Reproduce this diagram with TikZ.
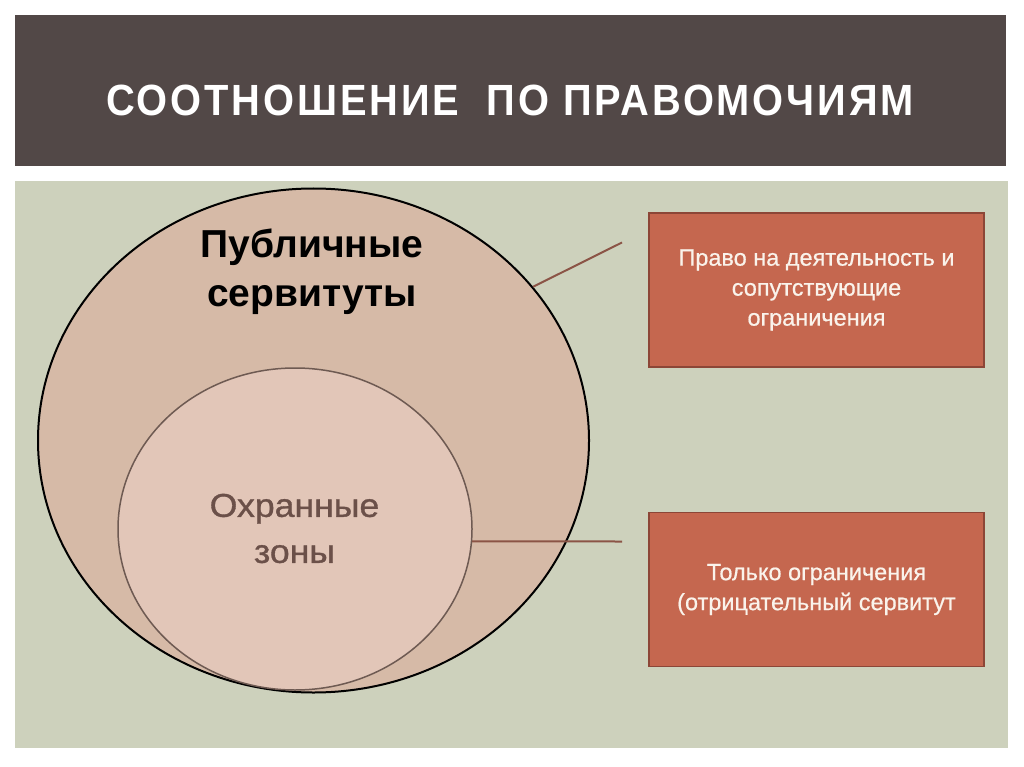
\documentclass[tikz,border=0pt]{standalone}
\usepackage{fontspec}
\setmainfont{Liberation Sans}
\usetikzlibrary{shapes.geometric}
\definecolor{titlebg}{RGB}{82,72,71}
\definecolor{panelbg}{RGB}{205,209,188}
\definecolor{outerfill}{RGB}{214,186,167}
\definecolor{innerfill}{RGB}{226,198,184}
\definecolor{inneredge}{RGB}{110,90,82}
\definecolor{linkcol}{RGB}{139,84,70}
\definecolor{boxfill}{RGB}{197,103,79}
\definecolor{boxedge}{RGB}{140,70,55}
\definecolor{boxtext}{RGB}{250,243,235}
\definecolor{zonetext}{RGB}{107,80,73}
\begin{document}
\begin{tikzpicture}[x=1pt,y=-1pt,
  infobox/.style={draw=boxedge, line width=1.5pt, fill=boxfill, minimum width=335pt,
    minimum height=154pt, inner sep=0pt, text=boxtext, align=center,
    font=\fontsize{23.5}{30}\selectfont\addfontfeature{FakeBold=0.6}},
  link/.style={draw=linkcol, line width=2pt},
  plate/.style={inner sep=0pt, anchor=north west}]
\useasboundingbox (0,0) rectangle (1024,767);
\fill[white] (0,0) rectangle (1024,767);
\node[plate, fill=titlebg, minimum width=991pt, minimum height=151pt] (titlebar) at (15,15) {};
\node[text=white, inner sep=0pt] (title) at (510,100)
  {\resizebox{807pt}{30.5pt}{\bfseries\addfontfeature{FakeStretch=0.7,LetterSpace=5}СООТНОШЕНИЕ\ \ ПО ПРАВОМОЧИЯМ}};
\node[plate, fill=panelbg, minimum width=993pt, minimum height=567pt] (panel) at (15,181) {};
\node[ellipse, draw=black, line width=2pt, fill=outerfill, minimum width=551pt,
  minimum height=504pt, inner sep=0pt] (outer) at (313.5,440.5) {};
\node[ellipse, draw=inneredge, line width=1.5pt, fill=innerfill, minimum width=354pt,
  minimum height=322pt, inner sep=0pt] (inner) at (295,529) {};
\node[font=\fontsize{39}{49}\selectfont\bfseries, align=center, inner sep=0pt] (pubtext) at (312,271.5)
  {Публичные\\сервитуты};
\node[font=\fontsize{33}{46}\selectfont\addfontfeature{FakeStretch=1.08,FakeBold=1}, text=zonetext, align=center, inner sep=0pt] (zonetext) at (294.5,528.5)
  {Охранные\\зоны};
\node[infobox] (box1) at (816.5,290) {Право на деятельность и\\сопутствующие\\ограничения};
\node[infobox] (box2) at (816.5,589.5) {Только ограничения\\(отрицательный сервитут};
\coordinate (end1) at (622,242.5);
\coordinate (end2) at (622,541.5);
\draw[link] (outer.35.6) -- (end1);
\draw[link] (inner.-4.3) -- (end2);
\end{tikzpicture}
\end{document}
